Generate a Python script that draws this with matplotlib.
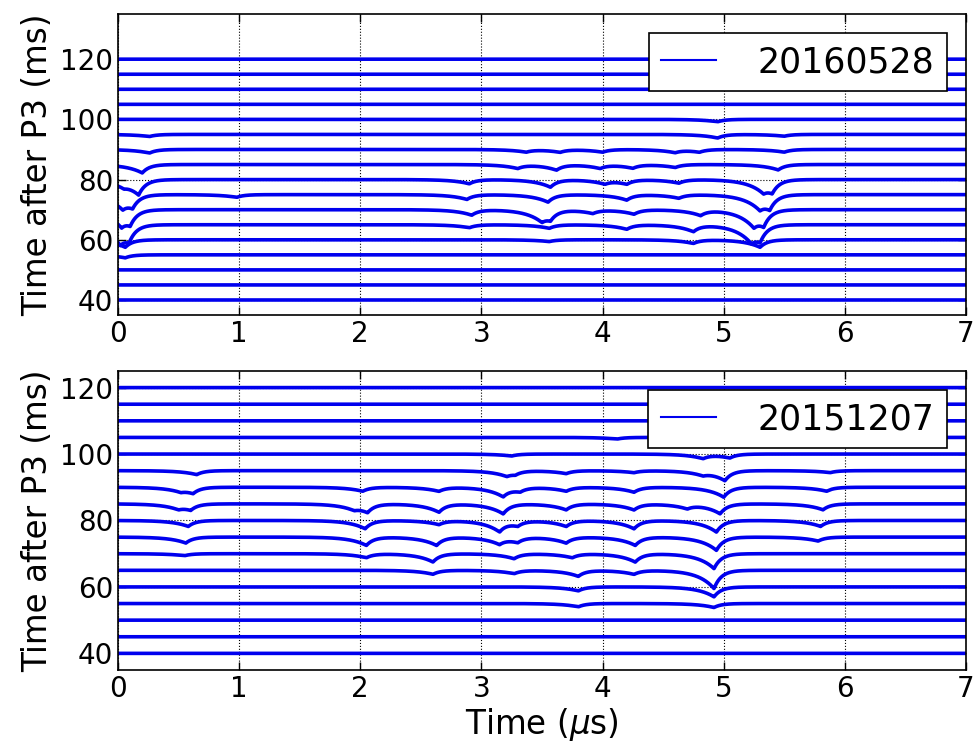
import numpy as np
import matplotlib
matplotlib.use("Agg")
import matplotlib.pyplot as plt

# trace offsets (ms after P3)
offsets = [40, 45, 50, 55, 60, 65, 70, 75, 80, 85, 90, 95, 100, 105, 110, 115, 120]

# dips: offset -> list of (time in us, depth)
dips_20160528 = {
    55: [(0.06, 1.0)],
    60: [(0.06, 2.5), (3.56, 0.6), (4.75, 1.2), (5.30, 2.5)],
    65: [(0.02, 4.0), (0.09, 5.0), (2.90, 1.0), (3.56, 1.2), (4.20, 1.5), (4.75, 2.2),
         (5.23, 3.5), (5.30, 5.0)],
    70: [(0.03, 3.5), (0.10, 4.5), (2.92, 1.8), (3.50, 2.5), (3.57, 3.0), (3.92, 1.2),
         (4.26, 1.5), (4.81, 1.8), (5.25, 3.5), (5.33, 5.0)],
    75: [(0.04, 3.0), (0.12, 4.0), (0.98, 0.9), (2.88, 1.6), (3.55, 2.5), (4.20, 1.8),
         (4.63, 1.2), (5.30, 3.0), (5.38, 4.5)],
    80: [(0.05, 1.2), (0.17, 5.0), (2.90, 1.4), (3.57, 2.5), (4.02, 1.2), (4.20, 1.5),
         (4.63, 1.2), (5.33, 2.5), (5.40, 4.0)],
    85: [(0.20, 2.8), (3.30, 1.2), (3.62, 1.8), (3.98, 1.2), (4.25, 1.2), (4.60, 1.0),
         (5.45, 1.8)],
    90: [(0.26, 1.2), (3.37, 0.8), (3.65, 0.9), (4.00, 0.9), (4.60, 0.9), (4.80, 0.9),
         (5.50, 0.9)],
    95: [(0.26, 0.7), (4.95, 1.2), (5.50, 0.6)],
    100: [(4.95, 0.8)],
}

dips_20151207 = {
    55: [(3.80, 1.0), (4.92, 1.2)],
    60: [(3.80, 1.2), (4.92, 3.0)],
    65: [(2.60, 1.2), (3.27, 1.0), (3.80, 1.8), (4.26, 1.2), (4.92, 5.5)],
    70: [(0.55, 0.6), (2.05, 1.2), (2.60, 2.5), (3.27, 1.5), (3.75, 1.2), (4.27, 2.5),
         (4.92, 4.5)],
    75: [(0.56, 1.8), (2.05, 2.5), (2.63, 2.5), (3.15, 1.8), (3.30, 1.5), (3.70, 1.8),
         (4.27, 2.5), (4.94, 4.0), (5.78, 1.2)],
    80: [(0.58, 1.8), (2.04, 2.5), (2.65, 1.2), (3.15, 3.0), (3.30, 1.5), (3.70, 1.8),
         (4.26, 2.5), (4.94, 3.5), (5.80, 1.8)],
    85: [(0.50, 1.0), (0.60, 1.8), (1.95, 1.0), (2.06, 2.5), (2.65, 2.5), (3.18, 3.0),
         (3.70, 1.8), (4.26, 1.8), (4.70, 1.2), (4.97, 3.0), (5.82, 1.8)],
    90: [(0.52, 0.8), (0.62, 1.8), (2.02, 1.2), (2.65, 1.2), (3.18, 2.5), (3.32, 1.2),
         (3.70, 1.2), (4.26, 1.5), (5.00, 3.0), (5.85, 1.2)],
    95: [(0.65, 1.2), (3.21, 1.2), (3.28, 1.0), (3.70, 0.9), (4.26, 0.6), (4.83, 0.9),
         (5.01, 3.0), (5.88, 0.6)],
    100: [(3.25, 0.6), (4.83, 1.2), (5.05, 1.2)],
    105: [(4.12, 0.5)],
}

legend_labels = ["20160528", "20151207"]
ylims = [(35, 135), (35, 125)]

t = np.linspace(0, 7, 3500)


def trace(base, events):
    y = np.full_like(t, float(base))
    for t0, d in events:
        before = np.exp(np.clip((t - t0) / 0.13, -50, 0))
        after = np.exp(-np.clip((t - t0) / 0.06, 0, 50))
        y -= d * np.where(t < t0, before, after)
    return y


plt.rcParams["font.family"] = "DejaVu Sans"
fig = plt.figure(figsize=(9.73, 7.46), dpi=100)
ax1 = fig.add_axes([0.1213, 0.5777, 0.8715, 0.4035])
ax2 = fig.add_axes([0.1213, 0.1019, 0.8715, 0.4008])

for ax, dips, lab, yl in zip([ax1, ax2], [dips_20160528, dips_20151207], legend_labels, ylims):
    for i, off in enumerate(offsets):
        ax.plot(t, trace(off, dips.get(off, [])), color="#0000ee", lw=2.6,
                label=lab if i == 0 else None)
    ax.set_xlim(0, 7)
    ax.set_ylim(*yl)
    ax.set_yticks([40, 60, 80, 100, 120])
    ax.set_xticks(range(8))
    ax.grid(True, color="black", linestyle=":", linewidth=0.8)
    ax.tick_params(direction="in", top=True, right=True, labelsize=20, length=6, width=1)
    ax.set_ylabel("Time after P3 (ms)", fontsize=23.5)
    for s in ax.spines.values():
        s.set_linewidth(1.2)
    leg = ax.legend(loc="upper right", fontsize=25, fancybox=False, framealpha=1,
                    edgecolor="black", handlelength=1.6, borderaxespad=0.55,
                    handletextpad=1.2, borderpad=0.35)
    leg.get_frame().set_linewidth(1.2)
    for h in leg.get_lines():
        h.set_linewidth(1.5)

ax2.set_xlabel(r"Time ($\mu$s)", fontsize=23.5, labelpad=2)

fig.savefig("out.png", dpi=100)
